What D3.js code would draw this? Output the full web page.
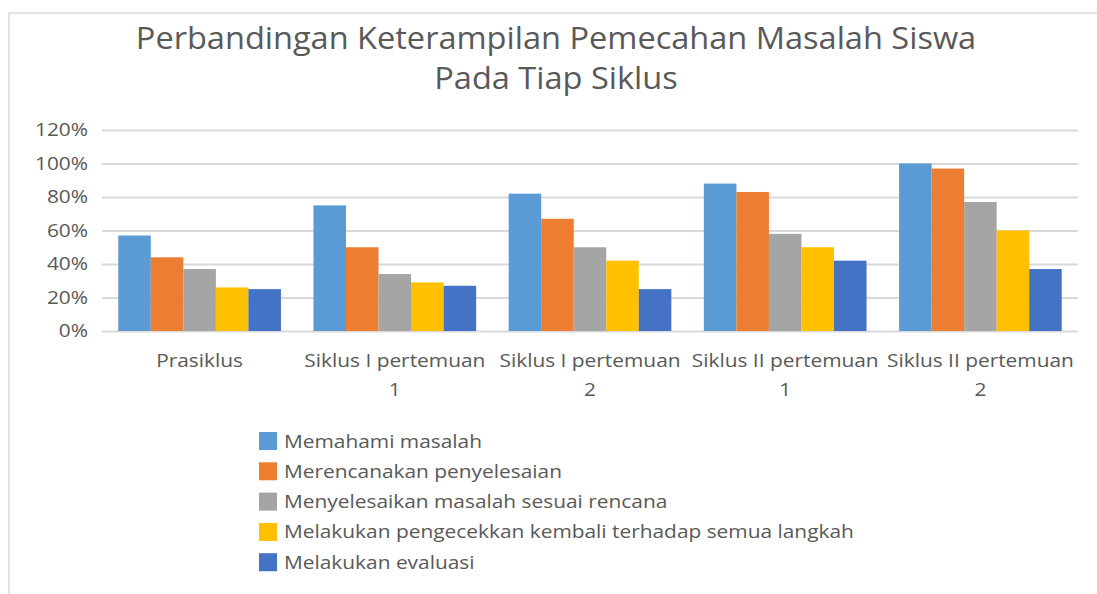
<!DOCTYPE html>
<html>
<head>
<meta charset="utf-8">
<script src="https://cdn.jsdelivr.net/npm/d3@7"></script>
<style>
  body { margin: 0; background: #fff; }
  text { font-family: "Open Sans", sans-serif; fill: #595959; }
</style>
</head>
<body>
<script>
var categories = [
  ["Prasiklus"],
  ["Siklus I pertemuan", "1"],
  ["Siklus I pertemuan", "2"],
  ["Siklus II pertemuan", "1"],
  ["Siklus II pertemuan", "2"]
];
var seriesNames = [
  "Memahami masalah",
  "Merencanakan penyelesaian",
  "Menyelesaikan masalah sesuai rencana",
  "Melakukan pengecekkan kembali terhadap semua langkah",
  "Melakukan evaluasi"
];
var memahami    = [0.57, 0.75, 0.82, 0.88, 1.00];
var merencanakan = [0.44, 0.50, 0.67, 0.83, 0.97];
var menyelesaikan = [0.37, 0.34, 0.50, 0.58, 0.77];
var pengecekan  = [0.26, 0.29, 0.42, 0.50, 0.60];
var evaluasi    = [0.25, 0.27, 0.25, 0.42, 0.37];
var yTicks = [0, 0.2, 0.4, 0.6, 0.8, 1.0, 1.2];
var colors = ["#5B9BD5", "#ED7D31", "#A5A5A5", "#FFC000", "#4472C4"];
var titleLines = ["Perbandingan Keterampilan Pemecahan Masalah Siswa", "Pada Tiap Siklus"];

var series = [memahami, merencanakan, menyelesaikan, pengecekan, evaluasi];

var width = 1097, height = 594;
var sx = 1.16; // the source picture is stretched sideways
var svg = d3.select("body").append("svg")
  .attr("width", width)
  .attr("height", height);

// chart border
svg.append("rect")
  .attr("x", 9).attr("y", 13)
  .attr("width", width + 10).attr("height", height + 10)
  .attr("fill", "none")
  .attr("stroke", "#e3e3e3")
  .attr("stroke-width", 2);

svg.selectAll(".title")
  .data(titleLines)
  .enter().append("text")
  .attr("transform", function(d, i) { return "translate(556," + (49 + i * 40) + ") scale(1.05,1)"; })
  .attr("text-anchor", "middle")
  .style("font-size", "31px")
  .text(function(d) { return d; });

var x0 = d3.scaleBand()
  .domain(d3.range(categories.length))
  .range([102, 1078]);

var barW = x0.bandwidth() / 6;
var x1 = d3.scaleBand()
  .domain(d3.range(series.length))
  .range([barW / 2, x0.bandwidth() - barW / 2]);

var y = d3.scaleLinear()
  .domain([0, 1.2])
  .range([331, 130]);

var yAxis = d3.axisLeft(y)
  .tickValues(yTicks)
  .tickFormat(d3.format(".0%"))
  .tickSize(-(1078 - 102))
  .tickPadding(14);

var gy = svg.append("g")
  .attr("transform", "translate(102,0)")
  .call(yAxis);
gy.select(".domain").remove();
gy.selectAll(".tick line").attr("stroke", "#d9d9d9").attr("stroke-width", 2);
gy.selectAll(".tick text")
  .attr("x", null)
  .attr("transform", "translate(-14,0) scale(" + sx + ",1)")
  .style("font-size", "18px")
  .style("font-family", "'Open Sans', sans-serif")
  .attr("fill", "#595959");

var groups = svg.selectAll(".grp")
  .data(categories)
  .enter().append("g")
  .attr("transform", function(d, i) { return "translate(" + x0(i) + ",0)"; });

groups.selectAll("rect")
  .data(function(d, i) { return series.map(function(s, j) { return { j: j, v: s[i] }; }); })
  .enter().append("rect")
  .attr("x", function(d) { return x1(d.j); })
  .attr("width", x1.bandwidth())
  .attr("y", function(d) { return y(d.v); })
  .attr("height", function(d) { return y(0) - y(d.v); })
  .attr("fill", function(d) { return colors[d.j]; });

groups.selectAll(".lbl")
  .data(function(d) { return d; })
  .enter().append("text")
  .attr("transform", function(d, i) {
    return "translate(" + (x0.bandwidth() / 2) + "," + (367 + i * 29) + ") scale(" + sx + ",1)";
  })
  .attr("text-anchor", "middle")
  .style("font-size", "18px")
  .text(function(d) { return d; });

var legend = svg.selectAll(".leg")
  .data(seriesNames)
  .enter().append("g")
  .attr("transform", function(d, i) { return "translate(259," + (441 + i * 30.3) + ")"; });
legend.append("rect")
  .attr("x", 0).attr("y", -9)
  .attr("width", 18).attr("height", 18)
  .attr("fill", function(d, i) { return colors[i]; });
legend.append("text")
  .attr("transform", "translate(25,6.5) scale(" + sx + ",1)")
  .style("font-size", "18px")
  .text(function(d) { return d; });
</script>
</body>
</html>
